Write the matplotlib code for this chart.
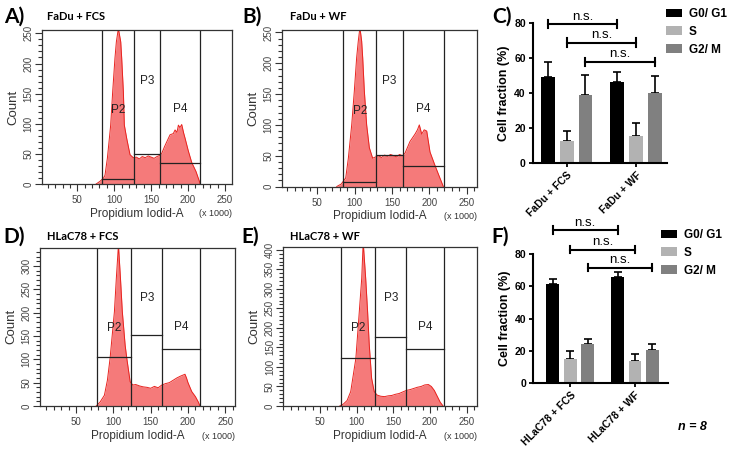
import matplotlib
matplotlib.use('Agg')
import matplotlib.pyplot as plt
from matplotlib.ticker import MultipleLocator

plt.rcParams['font.family'] = ['Liberation Sans', 'DejaVu Sans']

W, H = 734, 449

# --- PI histograms (x in units of 1000, counts) ---
fadu_fcs_x = [75, 80.8, 85.3, 87.5, 90.7, 95.2, 97.9, 101, 102.9, 105.6, 108.8, 110.1, 112.4,
              113.7, 116.9, 121.4, 125.9, 130, 134, 138, 142, 146, 150, 154, 158, 162, 164.3,
              168, 171, 175.6, 180, 182.4, 185, 186.9, 189, 191.4, 194, 196, 200.4, 205, 210.8,
              215.3, 216.5]
fadu_fcs_y = [0, 5, 10, 15, 43, 98, 153, 209, 236, 258, 236, 209, 153, 98, 76, 49, 44, 45, 42,
              46, 44, 47, 45, 43, 46, 48, 51, 62, 70, 82, 84, 90, 86, 98, 94, 99, 85, 76, 55,
              36, 21, 5, 0]
fadu_wf_x = [76, 82, 88, 91.5, 96, 99.5, 102.6, 104.8, 107, 109.3, 110.7, 112.9, 116, 119.6,
             124, 128, 132, 136, 140, 144, 148, 152, 156, 160, 164, 167.3, 174, 180.7, 184,
             186.5, 189.7, 193, 196.4, 200.8, 207.5, 214, 218.6]
fadu_wf_y = [0, 4, 14, 46, 100, 155, 209, 236, 258, 236, 209, 155, 100, 63, 46, 48, 50, 47, 51,
             49, 52, 50, 48, 52, 50, 54, 73, 85, 92, 100, 85, 92, 90, 56, 34, 14, 0]
hlac_fcs_x = [77, 82, 88, 92, 95.6, 101.4, 104, 106.8, 109.5, 112, 115.8, 118, 122.5, 126, 130,
              135, 140, 145, 150, 155, 160, 165, 170, 175, 180, 185, 190, 193, 196, 198, 200,
              205, 210, 214, 216]
hlac_fcs_y = [0, 8, 23, 55, 102, 202, 274, 345, 274, 202, 130, 102, 52, 45, 46, 43, 41, 40, 38,
              42, 39, 45, 48, 50, 55, 60, 64, 66, 68, 60, 50, 31, 20, 8, 0]
hlac_wf_x = [77, 82, 87, 92, 99, 103.7, 107, 109, 112.4, 115, 117.3, 120.5, 124, 128, 133, 138,
             143, 148, 153, 158, 163, 168, 173, 178, 183, 188, 193, 198, 202, 206, 210, 214, 218]
hlac_wf_y = [0, 5, 14, 37, 122, 242, 327, 420, 327, 242, 156, 71, 37, 28, 25, 24, 26, 27, 30,
             32, 36, 40, 42, 45, 48, 50, 54, 55, 50, 40, 25, 10, 0]

# gate edges (P2 | P3 | P4) and gate floors
fadu_fcs_edges, fadu_fcs_floor = [83.9, 127.2, 162.5, 216.3], [8, 51, 35]
fadu_wf_edges, fadu_wf_floor = [84.8, 128.5, 164.3, 219.5], [8, 51, 34]
hlac_fcs_edges, hlac_fcs_floor = [77.8, 123.8, 165, 216.5], [104, 151, 122]
hlac_wf_edges, hlac_wf_floor = [78.3, 125.1, 167.4, 219.2], [122, 178, 145]
gate_names = ['P2', 'P3', 'P4']

# --- cell cycle fractions (%) mean and SD ---
phases = ['G0/ G1', 'S', 'G2/ M']
fadu_groups = ['FaDu + FCS', 'FaDu + WF']
fadu_mean = [[49.5, 46.3], [12.8, 15.4], [39.0, 39.8]]
fadu_sd = [[8.2, 5.9], [5.7, 7.5], [11.5, 9.9]]
hlac_groups = ['HLaC78 + FCS', 'HLaC78 + WF']
hlac_mean = [[61.4, 65.8], [15.0, 13.8], [24.3, 20.6]]
hlac_sd = [[3.3, 3.2], [5.0, 4.6], [3.3, 3.7]]

fig = plt.figure(figsize=(W / 100, H / 100), dpi=100)


def rect(l, t, r, b):
    return [l / W, 1 - b / H, (r - l) / W, (b - t) / H]


def histo(box, x, y, edges, floors, label_pos, xlim, ylim, letter, title, lpos, tpos):
    ax = fig.add_axes(rect(*box))
    ax.fill_between(x, y, color='#f57a7a', lw=0)
    ax.plot(x, y, color='#e8231f', lw=0.7)
    for e in edges:
        ax.axvline(e, color='#222222', lw=0.9)
    for i in range(3):
        ax.plot([edges[i], edges[i + 1]], [floors[i], floors[i]], color='#222222', lw=0.9)
        ax.text(label_pos[i][0], label_pos[i][1], gate_names[i], fontsize=8.5,
                ha='center', va='center', color='#222222')
    ax.set_xlim(*xlim)
    ax.set_ylim(*ylim)
    ax.xaxis.set_major_locator(MultipleLocator(50))
    ax.xaxis.set_minor_locator(MultipleLocator(10))
    ax.yaxis.set_major_locator(MultipleLocator(50))
    ax.yaxis.set_minor_locator(MultipleLocator(10))
    ax.tick_params(which='both', direction='out', color='#333333', width=0.8)
    ax.tick_params(which='major', length=5, labelsize=7, labelcolor='#444444')
    ax.tick_params(which='minor', length=3)
    ax.tick_params(axis='y', labelrotation=90, pad=1)
    ax.tick_params(axis='x', pad=3)
    for lab in ax.get_yticklabels():
        lab.set_va('center')
    ax.set_xticks([50, 100, 150, 200, 250])
    for s in ax.spines.values():
        s.set_color('#333333')
        s.set_linewidth(0.9)
    ax.set_xlabel('Propidium Iodid-A', fontsize=8.5, color='#333333', labelpad=2)
    ax.set_ylabel('Count', fontsize=9.5, color='#333333', labelpad=3)
    ax.text(1.0, -0.19, '(x 1000)', transform=ax.transAxes, fontsize=6.5,
            ha='right', va='center', color='#333333')
    fig.text(lpos[0] / W, 1 - lpos[1] / H, letter, fontsize=15, fontweight='bold',
             family='Lato', ha='left', va='center')
    fig.text(tpos[0] / W, 1 - tpos[1] / H, title, fontsize=8, fontweight='bold',
             family='Lato', ha='left', va='center')
    return ax


histo((42, 30, 232, 184.3), fadu_fcs_x, fadu_fcs_y, fadu_fcs_edges, fadu_fcs_floor,
      [(105.6, 123), (144.9, 171), (189, 125)], (2.2, 259.5), (0, 255.5),
      'A)', 'FaDu + FCS', (4, 17), (47, 17))
histo((282, 30, 477, 186.5), fadu_wf_x, fadu_wf_y, fadu_wf_edges, fadu_wf_floor,
      [(107, 122), (146.3, 172), (191.8, 125)], (2.7, 263.7), (0, 254),
      'B)', 'FaDu + WF', (242, 17), (290, 17))
histo((40, 247.7, 235, 406), hlac_fcs_x, hlac_fcs_y, hlac_fcs_edges, hlac_fcs_floor,
      [(101, 168), (144.9, 230.6), (190.5, 170)], (1.7, 263), (0, 339),
      'D)', 'HLaC78 + FCS', (3, 237), (47, 237))
histo((283.3, 246.7, 477.3, 406), hlac_wf_x, hlac_wf_y, hlac_wf_edges, hlac_wf_floor,
      [(102.3, 199), (146.9, 276), (193.3, 203)], (0, 264.7), (0, 408),
      'E)', 'HLaC78 + WF', (241, 237), (290, 237))


def bars(box, groups, mean, sd, brackets_y, xlim, letter, lpos, legend_pos):
    ax = fig.add_axes(rect(*box))
    colors = ['#000000', '#b2b2b2', '#808080']
    offs = [-0.27, 0.0, 0.27]
    for i in range(3):
        xs = [g + offs[i] for g in range(len(groups))]
        ax.bar(xs, mean[i], width=0.2, color=colors[i], label=phases[i], zorder=2)
        ax.errorbar(xs, mean[i], yerr=[[0] * len(groups), sd[i]], fmt='none',
                    ecolor='black', elinewidth=1.2, capsize=3, capthick=1.2, zorder=1)
        by = brackets_y[i]
        x1, x2 = xs[0], xs[1]
        ax.plot([x1, x2], [by, by], color='black', lw=1.5, clip_on=False)
        for xe in (x1, x2):
            ax.plot([xe, xe], [by - 2.3, by + 2.3], color='black', lw=1.5, clip_on=False)
        ax.text((x1 + x2) / 2, by + 0.8, 'n.s.', fontsize=9.5, ha='center', va='bottom')
    ax.set_xlim(*xlim)
    ax.set_ylim(0, 80)
    ax.set_yticks([0, 20, 40, 60, 80])
    ax.set_xticks(range(len(groups)))
    ax.set_xticklabels(groups, rotation=45, ha='right', rotation_mode='anchor',
                       fontsize=7.5, fontweight='bold')
    for lab in ax.get_yticklabels():
        lab.set_fontweight('bold')
    ax.tick_params(labelsize=7.5, length=3, width=1.3, pad=2)
    for s in ['top', 'right']:
        ax.spines[s].set_visible(False)
    for s in ['left', 'bottom']:
        ax.spines[s].set_linewidth(1.5)
    ax.set_ylabel('Cell fraction (%)', fontsize=9, fontweight='bold', labelpad=3)
    ax.legend(loc='upper left', bbox_to_anchor=(legend_pos[0] / W, 1 - legend_pos[1] / H),
              bbox_transform=fig.transFigure, frameon=False, borderpad=0, borderaxespad=0,
              handlelength=1.35, handleheight=0.75, handletextpad=0.6, labelspacing=0.5,
              prop={'size': 8.5, 'weight': 'bold'})
    fig.text(lpos[0] / W, 1 - lpos[1] / H, letter, fontsize=15, fontweight='bold',
             family='Lato', ha='left', va='center')
    return ax


bars((532.7, 23.3, 666.7, 163), fadu_groups, fadu_mean, fadu_sd, [79.6, 69, 58],
     (-0.49, 1.44), 'C)', (492, 17), (666, 8))
bars((533.3, 254, 668, 383.3), hlac_groups, hlac_mean, hlac_sd, [94.8, 82.7, 71.5],
     (-0.571, 1.51), 'F)', (491, 237), (661, 229))

fig.text(692 / W, 1 - 427 / H, 'n = 8', fontsize=9, fontweight='bold', style='italic',
         ha='center', va='center')

fig.savefig('out.png', dpi=100)
